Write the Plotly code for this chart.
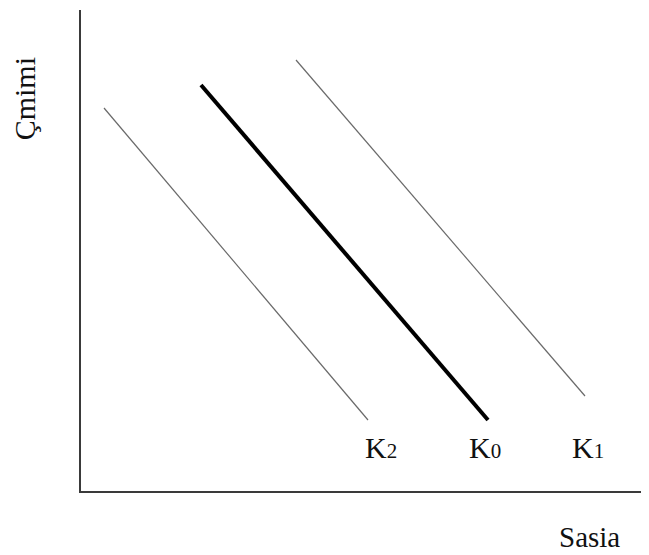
import plotly.graph_objects as go

# demand curves (x = quantity, y = price)
k2_x = [23, 287]
k2_y = [383, 71]
k0_x = [120, 407]
k0_y = [406, 71]
k1_x = [215, 504]
k1_y = [431, 95]

label_names = ["K<span style='font-size:21px'>2</span>",
               "K<span style='font-size:21px'>0</span>",
               "K<span style='font-size:21px'>1</span>"]
label_x = [300, 404, 507]
label_y = [44, 44, 44]

FONT = "Liberation Serif, Times New Roman, serif"

fig = go.Figure()

fig.add_trace(go.Scatter(x=k2_x, y=k2_y, mode="lines",
                         line=dict(color="#6a6a6a", width=1.2)))
fig.add_trace(go.Scatter(x=k0_x, y=k0_y, mode="lines",
                         line=dict(color="#000000", width=4)))
fig.add_trace(go.Scatter(x=k1_x, y=k1_y, mode="lines",
                         line=dict(color="#6a6a6a", width=1.2)))

for name, lx, ly in zip(label_names, label_x, label_y):
    fig.add_annotation(x=lx, y=ly, text=name, showarrow=False,
                       xanchor="center", yanchor="middle",
                       font=dict(family=FONT, size=30, color="#111111"))

fig.add_annotation(xref="paper", yref="paper", x=0.896, y=-0.058,
                   text="Sasia", showarrow=False, xanchor="center", yanchor="top",
                   font=dict(family=FONT, size=29, color="#111111"))
fig.add_annotation(xref="paper", yref="paper", x=-0.098, y=0.815,
                   text="Çmimi", showarrow=False, textangle=-90,
                   xanchor="center", yanchor="middle",
                   font=dict(family=FONT, size=30, color="#111111"))

# page body has an 8px margin, so the figure is shrunk to fit the window
fig.update_layout(
    width=641, height=547,
    margin=dict(l=73, r=0, t=2, b=64),
    paper_bgcolor="white", plot_bgcolor="white",
    showlegend=False,
    xaxis=dict(range=[0, 568], showgrid=False, zeroline=False,
               showticklabels=False, ticks="", showline=True,
               linecolor="#3a3a3a", linewidth=2),
    yaxis=dict(range=[0, 481], showgrid=False, zeroline=False,
               showticklabels=False, ticks="", showline=True,
               linecolor="#3a3a3a", linewidth=2),
)

fig.write_html("out.html")
